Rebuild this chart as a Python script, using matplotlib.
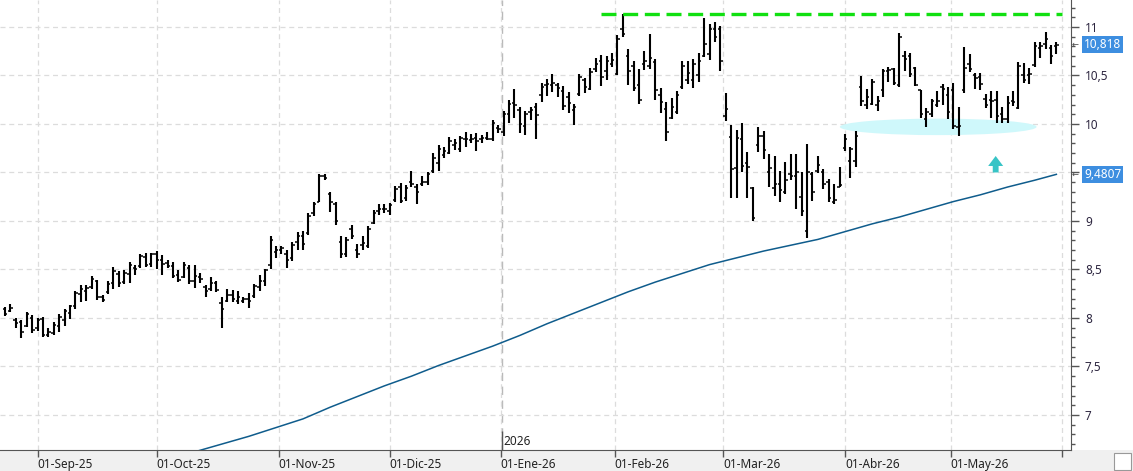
import matplotlib
matplotlib.use("Agg")
import matplotlib.pyplot as plt
import matplotlib.ticker as mticker
from matplotlib.patches import Ellipse, Rectangle
from matplotlib.transforms import ScaledTranslation
import pandas as pd

# trading days (Spanish market holidays removed)
holidays = ["2025-12-25", "2025-12-26", "2026-01-01", "2026-04-03", "2026-04-06", "2026-05-01"]
dates = pd.bdate_range("2025-08-22", "2026-05-29")
dates = dates[~dates.isin(pd.to_datetime(holidays))]

highs = [8.11, 8.14, 8.00, 7.98, 8.06, 8.03, 8.00, 8.01, 7.90, 7.96,
         8.04, 8.09, 8.13, 8.28, 8.34, 8.34, 8.43, 8.39, 8.24, 8.38,
         8.53, 8.48, 8.49, 8.58, 8.55, 8.66, 8.67, 8.67, 8.69, 8.65,
         8.60, 8.58, 8.49, 8.58, 8.55, 8.55, 8.46, 8.34, 8.42, 8.38,
         8.22, 8.30, 8.29, 8.28, 8.22, 8.26, 8.35, 8.44, 8.51, 8.85,
         8.74, 8.74, 8.70, 8.78, 8.89, 8.90, 9.08, 9.20, 9.48, 9.48,
         9.30, 9.20, 8.84, 8.83, 8.96, 8.76, 8.85, 8.95, 9.11, 9.18,
         9.18, 9.19, 9.36, 9.39, 9.37, 9.52, 9.38, 9.46, 9.51, 9.70,
         9.78, 9.76, 9.87, 9.84, 9.88, 9.92, 9.90, 9.91, 9.89, 9.92,
         10.04, 9.99, 10.13, 10.25, 10.36, 10.18, 10.13, 10.17, 10.22, 10.42,
         10.46, 10.51, 10.42, 10.39, 10.33, 10.21, 10.51, 10.47, 10.58, 10.68,
         10.71, 10.70, 10.73, 10.92, 11.13, 10.77, 10.65, 10.57, 10.75, 10.93,
         10.67, 10.37, 10.23, 10.27, 10.34, 10.65, 10.65, 10.67, 10.73, 11.09,
         11.03, 11.05, 11.01, 10.32, 9.99, 9.94, 10.01, 9.71, 9.35, 9.97,
         9.93, 9.69, 9.67, 9.52, 9.61, 9.69, 9.69, 9.51, 9.79, 9.51,
         9.67, 9.54, 9.43, 9.38, 9.56, 9.90, 9.76, 9.93, 10.49, 10.36,
         10.46, 10.29, 10.57, 10.59, 10.58, 10.94, 10.75, 10.73, 10.59, 10.35,
         10.16, 10.26, 10.34, 10.41, 10.38, 10.42, 10.18, 10.79, 10.72, 10.53,
         10.53, 10.31, 10.34, 10.34, 10.18, 10.29, 10.34, 10.64, 10.63, 10.58,
         10.85, 10.84, 10.95, 10.81, 10.84]

lows = [8.02, 8.06, 7.90, 7.79, 7.91, 7.85, 7.87, 7.80, 7.80, 7.82,
        7.86, 7.92, 7.99, 8.09, 8.16, 8.18, 8.30, 8.19, 8.16, 8.25,
        8.30, 8.32, 8.35, 8.36, 8.44, 8.52, 8.53, 8.53, 8.51, 8.44,
        8.52, 8.41, 8.37, 8.41, 8.35, 8.31, 8.36, 8.22, 8.28, 8.27,
        7.90, 8.16, 8.16, 8.14, 8.15, 8.10, 8.21, 8.28, 8.33, 8.51,
        8.62, 8.66, 8.52, 8.59, 8.70, 8.70, 8.86, 9.05, 9.20, 9.42,
        9.09, 8.96, 8.62, 8.63, 8.81, 8.62, 8.70, 8.72, 8.97, 9.06,
        9.08, 9.06, 9.20, 9.19, 9.21, 9.35, 9.17, 9.36, 9.37, 9.49,
        9.52, 9.65, 9.69, 9.73, 9.71, 9.76, 9.80, 9.72, 9.80, 9.83,
        9.82, 9.91, 9.88, 10.01, 10.06, 9.91, 9.89, 10.04, 9.84, 10.23,
        10.29, 10.33, 10.28, 10.14, 10.11, 9.99, 10.29, 10.32, 10.35, 10.54,
        10.39, 10.45, 10.59, 10.50, 10.90, 10.40, 10.34, 10.21, 10.56, 10.57,
        10.25, 10.11, 9.82, 10.05, 10.10, 10.36, 10.41, 10.37, 10.43, 10.69,
        10.66, 10.84, 10.55, 10.03, 9.24, 9.24, 9.51, 9.24, 9.00, 9.71,
        9.64, 9.35, 9.26, 9.20, 9.28, 9.42, 9.12, 9.05, 8.82, 9.21,
        9.49, 9.33, 9.20, 9.18, 9.35, 9.72, 9.44, 9.56, 10.19, 10.15,
        10.20, 10.13, 10.28, 10.43, 10.40, 10.38, 10.55, 10.48, 10.39, 10.06,
        9.97, 10.07, 10.18, 10.20, 10.05, 9.95, 9.88, 10.32, 10.54, 10.36,
        10.35, 10.16, 10.06, 10.01, 10.01, 10.01, 10.19, 10.15, 10.42, 10.41,
        10.59, 10.68, 10.77, 10.62, 10.72]

opens = [8.09, 8.07, 7.98, 7.96, 7.92, 8.00, 7.90, 7.99, 7.82, 7.85,
         7.92, 7.98, 8.05, 8.12, 8.25, 8.28, 8.32, 8.38, 8.22, 8.27,
         8.36, 8.45, 8.37, 8.45, 8.52, 8.54, 8.63, 8.56, 8.66, 8.60,
         8.57, 8.54, 8.44, 8.42, 8.52, 8.38, 8.42, 8.32, 8.30, 8.36,
         8.15, 8.18, 8.24, 8.18, 8.17, 8.20, 8.23, 8.32, 8.38, 8.55,
         8.68, 8.70, 8.66, 8.62, 8.78, 8.85, 8.88, 9.08, 9.20, 9.46,
         9.28, 9.18, 8.78, 8.66, 8.92, 8.70, 8.75, 8.74, 8.98, 9.10,
         9.12, 9.10, 9.22, 9.35, 9.24, 9.40, 9.35, 9.38, 9.40, 9.52,
         9.60, 9.68, 9.70, 9.78, 9.74, 9.84, 9.83, 9.86, 9.84, 9.86,
         9.84, 9.96, 9.92, 10.10, 10.22, 10.14, 9.98, 10.12, 10.18, 10.30,
         10.40, 10.40, 10.40, 10.34, 10.28, 10.14, 10.31, 10.45, 10.36, 10.57,
         10.65, 10.55, 10.62, 10.52, 10.98, 10.70, 10.60, 10.40, 10.62, 10.60,
         10.64, 10.30, 10.15, 10.06, 10.12, 10.38, 10.45, 10.45, 10.50, 10.70,
         10.72, 10.98, 10.98, 10.08, 9.87, 9.55, 9.85, 9.60, 9.34, 9.78,
         9.88, 9.50, 9.34, 9.38, 9.30, 9.48, 9.46, 9.25, 8.90, 9.48,
         9.52, 9.50, 9.40, 9.20, 9.35, 9.75, 9.62, 9.62, 10.38, 10.20,
         10.21, 10.20, 10.35, 10.55, 10.57, 10.40, 10.70, 10.70, 10.58, 10.35,
         10.05, 10.10, 10.20, 10.38, 10.30, 10.35, 9.97, 10.35, 10.62, 10.50,
         10.48, 10.26, 10.25, 10.25, 10.10, 10.05, 10.24, 10.16, 10.50, 10.50,
         10.61, 10.78, 10.82, 10.78, 10.80]

closes = [8.04, 8.10, 7.95, 7.86, 8.04, 7.88, 7.98, 7.82, 7.86, 7.93,
          8.01, 8.07, 8.12, 8.26, 8.30, 8.31, 8.40, 8.22, 8.19, 8.35,
          8.48, 8.36, 8.46, 8.55, 8.50, 8.64, 8.55, 8.66, 8.60, 8.56,
          8.54, 8.43, 8.39, 8.55, 8.38, 8.43, 8.40, 8.28, 8.36, 8.29,
          8.09, 8.24, 8.20, 8.22, 8.20, 8.18, 8.33, 8.38, 8.49, 8.80,
          8.70, 8.72, 8.60, 8.75, 8.85, 8.76, 9.05, 9.18, 9.46, 9.44,
          9.20, 9.00, 8.66, 8.80, 8.84, 8.66, 8.77, 8.92, 9.08, 9.12,
          9.12, 9.16, 9.33, 9.21, 9.34, 9.38, 9.30, 9.40, 9.48, 9.65,
          9.74, 9.72, 9.82, 9.80, 9.86, 9.85, 9.84, 9.82, 9.86, 9.85,
          10.01, 9.95, 10.10, 10.21, 10.20, 10.00, 10.10, 10.14, 10.09, 10.38,
          10.41, 10.42, 10.37, 10.19, 10.22, 10.18, 10.48, 10.38, 10.54, 10.62,
          10.48, 10.65, 10.66, 10.88, 10.93, 10.55, 10.37, 10.25, 10.65, 10.68,
          10.35, 10.23, 9.92, 10.18, 10.30, 10.60, 10.53, 10.62, 10.65, 10.82,
          10.98, 10.90, 10.65, 10.15, 9.54, 9.86, 9.57, 9.56, 9.03, 9.88,
          9.73, 9.55, 9.38, 9.32, 9.42, 9.46, 9.50, 9.10, 9.50, 9.30,
          9.58, 9.38, 9.24, 9.22, 9.37, 9.85, 9.74, 9.88, 10.24, 10.28,
          10.43, 10.24, 10.55, 10.56, 10.42, 10.90, 10.67, 10.52, 10.40, 10.10,
          10.12, 10.24, 10.24, 10.36, 10.12, 9.98, 9.98, 10.58, 10.57, 10.47,
          10.41, 10.20, 10.24, 10.08, 10.05, 10.22, 10.23, 10.60, 10.45, 10.52,
          10.80, 10.80, 10.88, 10.70, 10.818]

# long moving average, read every 5 sessions
ma_idx = [30, 35, 40, 45, 50, 55, 60, 65, 70, 75, 80, 85, 90, 95, 100, 105, 110,
          115, 120, 125, 130, 135, 140, 145, 150, 155, 160, 165, 170, 175, 180,
          185, 190, 194]
ma_vals = [6.56, 6.62, 6.70, 6.78, 6.87, 6.96, 7.08, 7.19, 7.30, 7.40, 7.51,
           7.61, 7.71, 7.82, 7.94, 8.05, 8.16, 8.27, 8.37, 8.46, 8.55, 8.62,
           8.69, 8.75, 8.81, 8.89, 8.97, 9.04, 9.12, 9.20, 9.27, 9.35, 9.42, 9.4807]

resistance = 11.13
support = 9.97
last_close = 10.818
last_ma = 9.4807

months_es = {1: "Ene", 2: "Feb", 3: "Mar", 4: "Abr", 5: "May", 6: "Jun",
             7: "Jul", 8: "Ago", 9: "Sep", 10: "Oct", 11: "Nov", 12: "Dic"}

fig = plt.figure(figsize=(11.33, 4.71), dpi=100)
fig.patches.append(Rectangle((0, 0), 1, 21 / 471, transform=fig.transFigure,
                             facecolor="#f0f0f0", edgecolor="none", zorder=-2))
fig.patches.append(Rectangle((1114 / 1133, 1 / 471), 17 / 1133, 17 / 471, transform=fig.transFigure,
                             facecolor="white", edgecolor="#999999", lw=0.8, zorder=-1))
ax = fig.add_axes([0, 21 / 471, 1071 / 1133, 450 / 471])
ax.set_zorder(2)
ax.patch.set_alpha(0)

x = list(range(len(dates)))
ax.vlines(x, lows, highs, color="black", lw=1.5, zorder=4)
ax.hlines(opens, [i - 0.45 for i in x], x, color="black", lw=1.1, zorder=4)
ax.hlines(closes, x, [i + 0.45 for i in x], color="black", lw=1.1, zorder=4)

ax.plot(ma_idx, ma_vals, color="#0f5c8c", lw=1.1, zorder=3)

# resistance / support marks
ax.hlines(resistance, 110, 195, color="#11e011", lw=2.4, linestyles=(0, (4.5, 2)), zorder=5)
ax.add_patch(Ellipse((172.2, support), 36.3, 0.17, facecolor="#cff8fb", edgecolor="none", zorder=2))
ax.annotate("", xy=(182.8, 9.67), xytext=(182.8, 9.50),
            arrowprops=dict(arrowstyle="simple,head_width=0.9,head_length=0.6,tail_width=0.35",
                            mutation_scale=12, color="#38c4c6", lw=0, shrinkA=0, shrinkB=0),
            zorder=5)

# month ticks
tick_pos, tick_lab = [], []
prev = None
for i, d in enumerate(dates):
    if prev is not None and d.month != prev.month:
        tick_pos.append(i if d.day == 1 else i - 0.5)
        tick_lab.append("01-%s-%s" % (months_es[d.month], d.strftime("%y")))
    prev = d
tick_pos.append(len(dates))
tick_lab.append("")

ax.set_xlim(-0.92, 196.7)
ax.set_ylim(6.639, 11.278)
ax.set_xticks(tick_pos)
ax.set_xticklabels(tick_lab, ha="left", fontsize=8.5, color="#222222", family="Noto Sans")
offset = ScaledTranslation(2 / 72, 0, fig.dpi_scale_trans)
for lbl in ax.get_xticklabels():
    lbl.set_transform(lbl.get_transform() + offset)
ax.xaxis.get_major_ticks()[-1].tick1line.set_color("#f0a030")
ax.tick_params(axis="x", length=5, width=1, color="#555555", pad=1)


def price_fmt(v, pos):
    # the last-value boxes cover the tick label underneath them
    if abs(v - last_ma) < 0.1 or abs(v - last_close) < 0.1:
        return ""
    return ("%g" % v).replace(".", ",")


ax.yaxis.tick_right()
ax.yaxis.set_major_locator(mticker.MultipleLocator(0.5))
ax.yaxis.set_minor_locator(mticker.MultipleLocator(0.1))
ax.yaxis.set_major_formatter(mticker.FuncFormatter(price_fmt))
ax.tick_params(axis="y", which="major", length=6, width=1, color="#555555", pad=4,
               labelsize=8.5, labelcolor="#2d2640")
ax.tick_params(axis="y", which="minor", length=3, width=1, color="#555555")
for lbl in ax.get_yticklabels():
    lbl.set_family("Noto Sans")

ax.grid(True, which="major", color="#dcdcdc", lw=0.9, linestyle=(0, (4, 3)))
jan_idx = [i for i, d in enumerate(dates) if d.month == 1 and d.year == 2026][0]
ax.axvline(jan_idx - 0.3, color="#b8b8b8", lw=1, linestyle=(0, (6, 4)), zorder=1)
ax.vlines(jan_idx - 0.3, 6.639, 6.83, color="#555555", lw=1, zorder=5)
ax.text(jan_idx, 6.66, "2026", fontsize=8.5, family="Noto Sans", color="#222222", va="bottom")

for s in ["top", "left"]:
    ax.spines[s].set_visible(False)
ax.spines["right"].set_color("#555555")
ax.spines["bottom"].set_color("#555555")

# last value labels
for val, txt in [(last_close, "10,818"), (last_ma, "9,4807")]:
    ax.annotate(txt, xy=(1, val), xycoords=("axes fraction", "data"), xytext=(13, 0),
                textcoords="offset pixels", ha="left", va="center", color="white",
                fontsize=8.5, family="Noto Sans",
                bbox=dict(boxstyle="square,pad=0.15", fc="#3d8ee0", ec="none"))
    ax.annotate("←", xy=(1, val), xycoords=("axes fraction", "data"), xytext=(1, 0),
                textcoords="offset pixels", ha="left", va="center", color="#444444", fontsize=6)

fig.savefig("out.png", dpi=100)
